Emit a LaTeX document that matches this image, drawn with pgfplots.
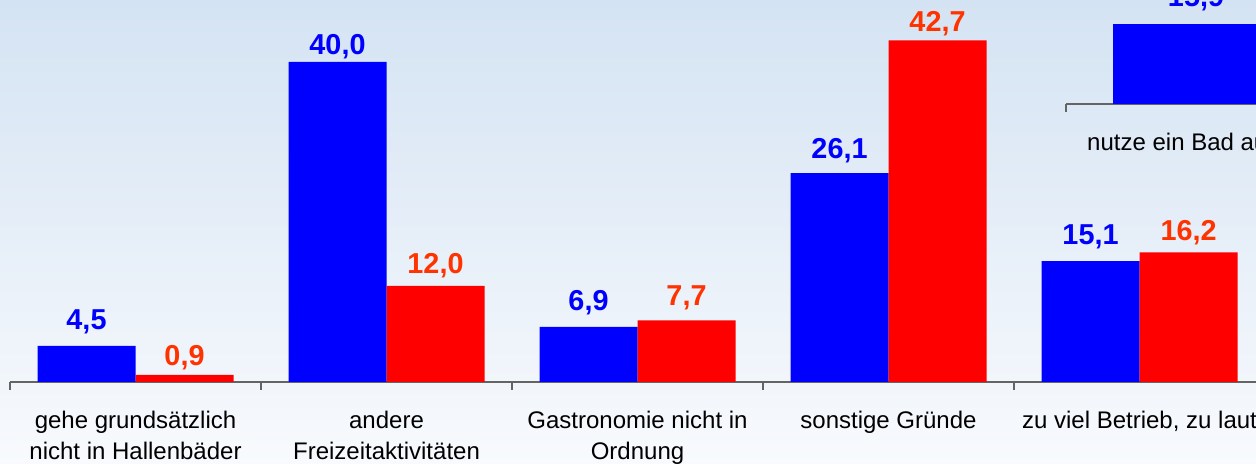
\documentclass[border=0pt]{standalone}
\usepackage{fontspec}
\setmainfont{Liberation Sans}
\usepackage{pgfplots}
\usepackage{pgfplotstable}
\pgfplotsset{compat=1.18}
\definecolor{bgtop}{RGB}{212,227,243}
\definecolor{bgbot}{RGB}{248,250,253}
\definecolor{barblue}{RGB}{0,0,255}
\definecolor{barred}{RGB}{255,0,0}
\definecolor{lblblue}{RGB}{0,0,255}
\definecolor{lblred}{RGB}{255,51,0}
\definecolor{axgray}{RGB}{100,100,100}

\pgfplotstableread{
x y off
0 4.5 12
1 40.0 7.5
2 6.9 12
3 26.1 11.5
4 15.1 12
}\blueA
\pgfplotstableread{
x y off
0 0.9 8.5
1 12.0 10
2 7.7 11.5
3 42.7 8.25
4 16.2 10
}\redA
\pgfplotstableread{
x y off
0 15.9 12.75
}\blueB

\pgfplotsset{
  valnodes/.style={
    nodes near coords={\pgfmathprintnumber[fixed,fixed zerofill,precision=1,use comma,assume math mode=true]{\pgfplotspointmeta}},
    visualization depends on={\thisrow{off} \as \off},
    every node near coord/.append style={anchor=center, yshift=\off pt, inner sep=0pt,
      font=\fontsize{14.4}{17}\selectfont\bfseries, text=#1},
  },
  baseax/.style={
    scale only axis, anchor=south west,
    ymin=0, enlargelimits=false, clip=false,
    axis x line*=bottom, axis y line=none,
    axis line style={draw=axgray, line width=0.6pt},
    ytick=\empty,
    major tick length=0pt, minor tick length=4pt, tick align=outside,
    tick style={draw=axgray, line width=0.6pt},
    xticklabel style={font=\fontsize{12}{15.3}\selectfont, align=center,
      anchor=north, inner sep=0pt, yshift=-14.5pt, text=black},
  },
}

\begin{document}
\begin{tikzpicture}
\useasboundingbox (0,0) rectangle (628pt,232pt);
\clip (0,0) rectangle (628pt,232pt);
\shade[top color=bgtop,bottom color=bgbot] (0,0) rectangle (628pt,232pt);

\begin{axis}[baseax,
  at={(5pt,41pt)},
  x=125.5pt, y=4pt, xmin=-0.5, xmax=5.5, ymax=50,
  xtick={0,1,2,3,4},
  xticklabels={{gehe grundsätzlich\\nicht in Hallenbäder},{andere\\Freizeitaktivitäten},{Gastronomie nicht in\\Ordnung},{sonstige Gründe},{zu viel Betrieb, zu laut}},
  minor xtick={-0.5,0.5,1.5,2.5,3.5,4.5},
  ybar=0pt, bar width=49pt,
]
\addplot[fill=barblue, draw=none, valnodes=lblblue] table[x=x,y=y]{\blueA};
\addplot[fill=barred, draw=none, valnodes=lblred] table[x=x,y=y]{\redA};
\end{axis}

\begin{axis}[baseax,
  at={(533pt,180pt)},
  x=213pt, y=2.5pt, xmin=-0.5, xmax=1.5, ymax=30,
  xtick={0},
  xticklabels={{nutze ein Bad außerhalb von Köln}},
  xticklabel style={xshift=-5.5pt},
  minor xtick={-0.5,0.5},
]
\addplot[ybar, bar width=83pt, bar shift=-41.5pt, fill=barblue, draw=none, valnodes=lblblue,
  every node near coord/.append style={xshift=-41.5pt}] table[x=x,y=y]{\blueB};
\end{axis}
\end{tikzpicture}
\end{document}
